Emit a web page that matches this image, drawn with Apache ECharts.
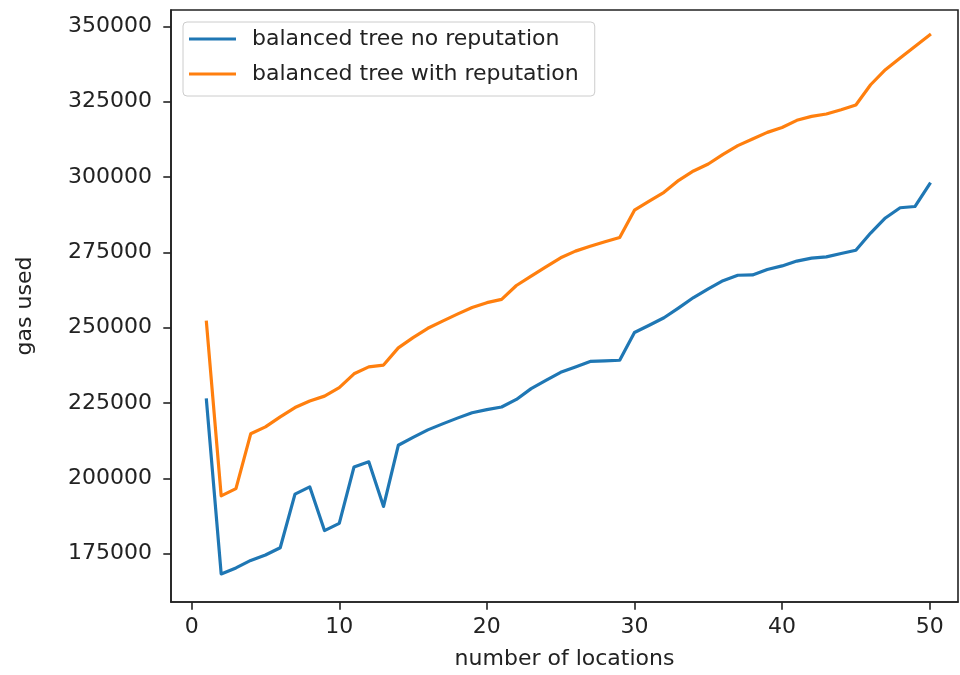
<!DOCTYPE html>
<html>
<head>
<meta charset="utf-8">
<title>gas used vs number of locations</title>
<script src="https://cdn.jsdelivr.net/npm/echarts@6/dist/echarts.min.js"></script>
<style>
  html, body { margin: 0; padding: 0; background: #fff; }
  #chart { width: 960px; height: 675px; }
</style>
</head>
<body>
<div id="chart"></div>
<script>
// number of locations (x values)
const locations = [1, 2, 3, 4, 5, 6, 7, 8, 9, 10,
  11, 12, 13, 14, 15, 16, 17, 18, 19, 20,
  21, 22, 23, 24, 25, 26, 27, 28, 29, 30,
  31, 32, 33, 34, 35, 36, 37, 38, 39, 40,
  41, 42, 43, 44, 45, 46, 47, 48, 49, 50];

// gas used, balanced tree without reputation
const noReputation = [226000, 168300, 170300, 172800, 174600, 177000, 194800, 197200, 182700, 185100,
  203800, 205500, 190700, 211000, 213600, 216100, 218100, 220000, 221800, 222800,
  223700, 226200, 229800, 232500, 235200, 237000, 238800, 239000, 239200, 248400,
  250800, 253300, 256600, 260000, 262900, 265600, 267400, 267500, 269300, 270500,
  272100, 273100, 273500, 274600, 275700, 281400, 286400, 289800, 290200, 297700];

// gas used, balanced tree with reputation
const withReputation = [251800, 194200, 196600, 214800, 217100, 220400, 223500, 225700, 227300, 230100,
  234700, 237000, 237600, 243300, 246700, 249800, 252200, 254500, 256700, 258300,
  259400, 264000, 267100, 270200, 273200, 275400, 277000, 278500, 279900, 289000,
  292000, 294900, 298900, 302000, 304300, 307500, 310400, 312600, 314800, 316400,
  318800, 320100, 320900, 322300, 323900, 330600, 335600, 339500, 343300, 347100];

const seriesNames = ['balanced tree no reputation', 'balanced tree with reputation'];

// tick positions
const xTicks = [0, 10, 20, 30, 40, 50];
const yTicks = [175000, 200000, 225000, 250000, 275000, 300000, 325000, 350000];

const FONT = 'DejaVu Sans';
const INK = '#222';
const FS = 22;

function pairs(xs, ys) {
  return xs.map((x, i) => [x, ys[i]]);
}

const chart = echarts.init(document.getElementById('chart'), null, { renderer: 'canvas' });

chart.setOption({
  animation: false,
  backgroundColor: '#fff',
  textStyle: { fontFamily: FONT },
  grid: {
    show: true,
    left: 171,
    right: 2,
    top: 10,
    bottom: 72,
    borderColor: INK,
    borderWidth: 1.6,
    backgroundColor: 'transparent'
  },
  legend: {
    orient: 'vertical',
    left: 183,
    top: 22,
    padding: [6, 16, 11, 6],
    itemGap: 13,
    itemWidth: 47,
    itemHeight: 3,
    icon: 'rect',
    backgroundColor: 'rgba(255,255,255,0.85)',
    borderColor: '#cccccc',
    borderWidth: 1,
    borderRadius: 4,
    textStyle: {
      fontFamily: FONT,
      fontSize: FS,
      color: INK,
      padding: [0, 0, 0, 11]
    },
    data: seriesNames
  },
  xAxis: {
    type: 'value',
    min: -1.40,
    max: 51.92,
    name: 'number of locations',
    nameLocation: 'middle',
    nameGap: 46,
    nameTextStyle: { fontFamily: FONT, fontSize: FS, color: INK },
    splitLine: { show: false },
    axisLine: { show: true, onZero: false, lineStyle: { color: INK, width: 1.6 } },
    axisTick: {
      show: true,
      customValues: xTicks,
      length: 7.7,
      lineStyle: { color: INK, width: 1.6 }
    },
    axisLabel: {
      customValues: xTicks,
      margin: 14,
      fontFamily: FONT,
      fontSize: FS,
      color: INK
    }
  },
  yAxis: {
    type: 'value',
    min: 159000,
    max: 355400,
    name: 'gas used',
    nameLocation: 'middle',
    nameGap: 135,
    nameRotate: 90,
    nameTextStyle: { fontFamily: FONT, fontSize: FS, color: INK },
    splitLine: { show: false },
    axisLine: { show: true, onZero: false, lineStyle: { color: INK, width: 1.6 } },
    axisTick: {
      show: true,
      customValues: yTicks,
      length: 7.7,
      lineStyle: { color: INK, width: 1.6 }
    },
    axisLabel: {
      customValues: yTicks,
      formatter: (v) => String(v),
      margin: 19,
      fontFamily: FONT,
      fontSize: FS,
      color: INK
    }
  },
  series: [
    {
      name: seriesNames[0],
      type: 'line',
      data: pairs(locations, noReputation),
      showSymbol: false,
      symbol: 'none',
      color: '#1f77b4',
      lineStyle: { width: 3.2, color: '#1f77b4', join: 'round', cap: 'square' },
      z: 2
    },
    {
      name: seriesNames[1],
      type: 'line',
      data: pairs(locations, withReputation),
      showSymbol: false,
      symbol: 'none',
      color: '#ff7f0e',
      lineStyle: { width: 3.2, color: '#ff7f0e', join: 'round', cap: 'square' },
      z: 2
    }
  ]
});
</script>
</body>
</html>
